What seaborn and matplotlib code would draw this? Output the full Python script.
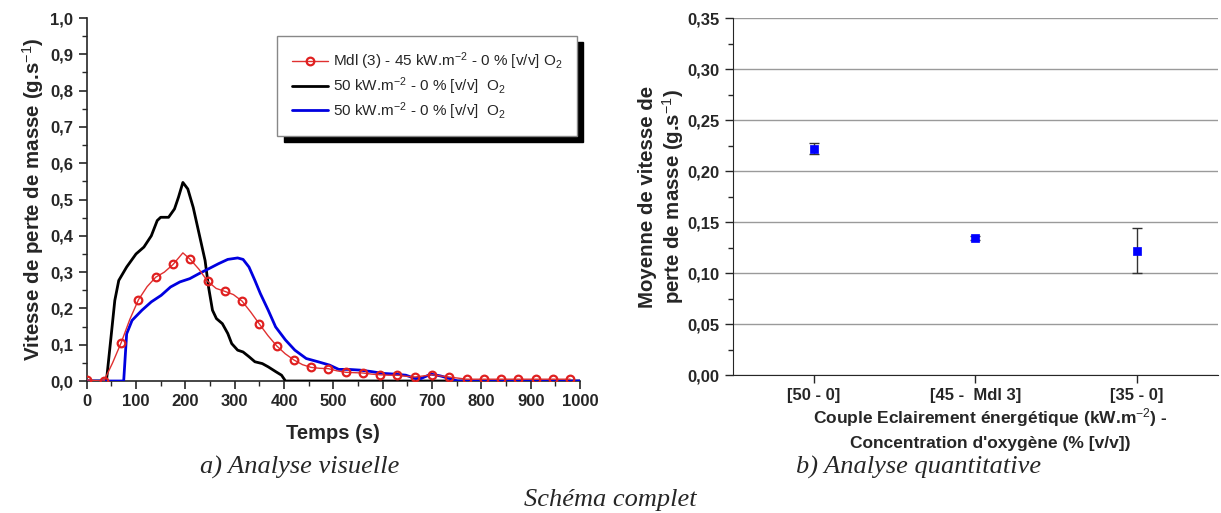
import numpy as np
import pandas as pd
import matplotlib
matplotlib.use("Agg")
import matplotlib.pyplot as plt
from matplotlib.ticker import MultipleLocator, FixedLocator
import seaborn as sns

# ---- data ----
# red curve (Mdl 3) sampled every 17.5 s, markers on every other point
red_t = [0, 17.5, 35, 52.5, 70, 87.5, 105, 122.5, 140, 157.5, 175, 195, 210, 227.5,
         245, 262.5, 280, 297.5, 315, 332.5, 350, 367.5, 385, 402.5, 420, 437.5,
         455, 472.5, 490, 507.5, 525, 542.5, 560, 577.5, 595, 612.5, 630, 647.5,
         665, 682.5, 700, 717.5, 735, 752.5, 770, 787.5, 805, 822.5, 840, 857.5,
         875, 892.5, 910, 927.5, 945, 962.5, 980]
red_v = [0.003, 0.001, 0.0, 0.05, 0.106, 0.170, 0.224, 0.260, 0.286, 0.300, 0.321, 0.353,
         0.335, 0.308, 0.275, 0.255, 0.247, 0.238, 0.220, 0.190, 0.157, 0.125,
         0.097, 0.075, 0.058, 0.045, 0.0375, 0.035, 0.034, 0.028, 0.024, 0.023,
         0.022, 0.019, 0.017, 0.016, 0.016, 0.013, 0.011, 0.014, 0.017, 0.014,
         0.011, 0.008, 0.005, 0.005, 0.005, 0.005, 0.005, 0.005, 0.005, 0.005,
         0.005, 0.005, 0.005, 0.005, 0.005]

black_t = [0, 40, 50, 57, 65, 81, 100, 116, 131, 143, 150, 166, 178, 186, 195, 205,
           216, 228, 240, 247, 255, 263, 275, 286, 294, 306, 317, 329, 341, 356,
           368, 383, 395, 403, 1000]
black_v = [0.0, 0.0, 0.13, 0.222, 0.277, 0.314, 0.350, 0.369, 0.400, 0.442, 0.451,
           0.451, 0.474, 0.506, 0.547, 0.529, 0.478, 0.405, 0.332, 0.259, 0.195,
           0.172, 0.158, 0.131, 0.103, 0.085, 0.080, 0.067, 0.053, 0.048, 0.039,
           0.026, 0.016, 0.0, 0.0]

blue_t = [0, 75, 81, 92, 112, 131, 151, 170, 189, 209, 228, 247, 267, 286, 306, 317,
          329, 341, 352, 368, 383, 403, 422, 445, 469, 492, 511, 531, 554, 577,
          600, 624, 647, 666, 678, 698, 717, 736, 752, 1000]
blue_v = [0.0, 0.0, 0.13, 0.167, 0.195, 0.218, 0.236, 0.259, 0.273, 0.282, 0.296,
          0.309, 0.323, 0.335, 0.339, 0.335, 0.314, 0.277, 0.241, 0.195, 0.149,
          0.113, 0.085, 0.062, 0.053, 0.044, 0.032, 0.032, 0.030, 0.026, 0.021,
          0.019, 0.016, 0.007, 0.007, 0.019, 0.014, 0.007, 0.0, 0.0]

couples = ["[50 - 0]", "[45 -  Mdl 3]", "[35 - 0]"]
mean_rate = [0.222, 0.134, 0.122]
err_rate = [0.005, 0.002, 0.022]

lbl_red = r"Mdl (3) - 45 kW.m$^{-2}$ - 0 % [v/v] O$_2$"
lbl_black = r"50 kW.m$^{-2}$ - 0 % [v/v]  O$_2$"
lbl_blue = r"50 kW.m$^{-2}$ - 0 % [v/v]  O$_2$"

sns.set_style("ticks")
plt.rcParams["font.family"] = ["Liberation Sans", "DejaVu Sans"]
plt.rcParams["mathtext.fontset"] = "custom"
plt.rcParams["mathtext.rm"] = "Liberation Sans"
plt.rcParams["mathtext.it"] = "Liberation Sans:italic"
plt.rcParams["mathtext.bf"] = "Liberation Sans:bold"

fig = plt.figure(figsize=(12.21, 5.13), dpi=100)
ax1 = fig.add_axes([0.0710, 0.2573, 0.4040, 0.7076])
ax2 = fig.add_axes([0.6003, 0.2690, 0.3972, 0.6959])

# ---- left panel ----
red = pd.DataFrame({"t": red_t, "v": red_v})
black = pd.DataFrame({"t": black_t, "v": black_v})
blue = pd.DataFrame({"t": blue_t, "v": blue_v})

sns.lineplot(data=red, x="t", y="v", ax=ax1, color="#e03030", lw=1.0,
             marker="o", markersize=5.5, markerfacecolor="none",
             markeredgecolor="#e02020", markeredgewidth=1.6, markevery=2,
             sort=False, estimator=None, label=lbl_red, zorder=4)
sns.lineplot(data=black, x="t", y="v", ax=ax1, color="black", lw=2.0,
             sort=False, estimator=None, label=lbl_black, zorder=3)
sns.lineplot(data=blue, x="t", y="v", ax=ax1, color="#0000e0", lw=2.0,
             sort=False, estimator=None, label=lbl_blue, zorder=3.5)

ax1.set_xlim(0, 1000)
ax1.set_ylim(0, 1.0)
ax1.xaxis.set_major_locator(MultipleLocator(100))
ax1.xaxis.set_minor_locator(MultipleLocator(50))
ax1.yaxis.set_major_locator(MultipleLocator(0.1))
ax1.yaxis.set_minor_locator(MultipleLocator(0.05))
ax1.yaxis.set_major_formatter(plt.FuncFormatter(lambda v, p: f"{v:.1f}".replace(".", ",")))
ax1.tick_params(which="major", length=6, width=1.2, labelsize=12, direction="out")
ax1.tick_params(which="minor", length=3.5, width=1.0, direction="out")
for lab in ax1.get_xticklabels() + ax1.get_yticklabels():
    lab.set_fontweight("bold")
for s in ["top", "right"]:
    ax1.spines[s].set_visible(False)
for s in ["left", "bottom"]:
    ax1.spines[s].set_linewidth(1.2)
ax1.set_xlabel("Temps (s)", fontsize=14.5, fontweight="bold", labelpad=11)
ax1.set_ylabel("Vitesse de perte de masse (g.s$^{-1}$)", fontsize=14.8, fontweight="bold", labelpad=3)

leg = ax1.legend(loc="upper right", bbox_to_anchor=(0.994, 0.950), borderaxespad=0,
                 fontsize=11, frameon=True, fancybox=False, edgecolor="#888888",
                 framealpha=1, borderpad=0.95, labelspacing=0.2, handlelength=2.4,
                 handletextpad=0.3,
                 shadow={"ox": 4.5, "oy": -4.5, "color": "black", "alpha": 1.0})
leg.get_frame().set_linewidth(1.0)

# ---- right panel ----
ax2.grid(axis="y", color="#9a9a9a", lw=1.0, zorder=0)
ax2.errorbar(np.arange(len(couples)), mean_rate, yerr=err_rate, fmt="none",
             ecolor="#333333", elinewidth=1.0, capsize=3.5, capthick=1.0, zorder=2)
sns.scatterplot(x=couples, y=mean_rate, ax=ax2, marker="s", s=38, color="#0000ff",
                edgecolor="#0000ff", linewidth=0.5, zorder=3)
ax2.set_xlim(-0.5, 2.5)
ax2.set_ylim(0, 0.35)
ax2.xaxis.set_major_locator(FixedLocator([0, 1, 2]))
ax2.set_xticklabels(couples)
ax2.yaxis.set_major_locator(MultipleLocator(0.05))
ax2.yaxis.set_minor_locator(MultipleLocator(0.025))
ax2.yaxis.set_major_formatter(plt.FuncFormatter(lambda v, p: f"{v:.2f}".replace(".", ",")))
ax2.tick_params(which="major", length=6, width=1.0, labelsize=12, direction="out")
ax2.tick_params(which="minor", length=3.5, width=1.0, direction="out")
for lab in ax2.get_xticklabels() + ax2.get_yticklabels():
    lab.set_fontweight("bold")
for s in ["top", "right"]:
    ax2.spines[s].set_visible(False)
ax2.set_xlabel("Couple Eclairement énergétique (kW.m$^{-2}$) -\nConcentration d'oxygène (% [v/v])",
               fontsize=12.5, fontweight="bold", linespacing=1.55)
ax2.xaxis.set_label_coords(0.53, -0.150, transform=ax2.transAxes)
ax2.xaxis.label.set_verticalalignment("center")
ax2.set_ylabel("Moyenne de vitesse de\nperte de masse (g.s$^{-1}$)", fontsize=14.7,
               fontweight="bold", linespacing=1.15, labelpad=1)

# ---- captions ----
cap = dict(family=["Liberation Serif", "DejaVu Serif"], style="italic", fontsize=19,
           ha="center", va="center")
fig.text(0.2457, 0.0897, "a) Analyse visuelle", **cap)
fig.text(0.7527, 0.0897, "b) Analyse quantitative", **cap)
fig.text(0.4996, 0.0255, "Schéma complet", **cap)

fig.savefig("out.png", dpi=100)
